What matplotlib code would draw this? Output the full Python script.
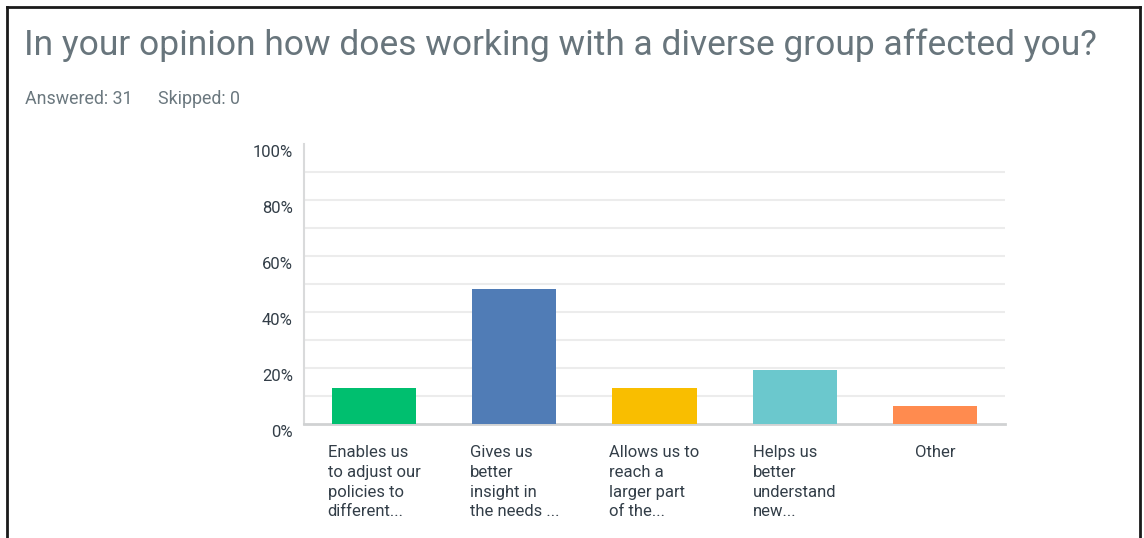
import numpy as np
import matplotlib.pyplot as plt
from matplotlib.lines import Line2D
import matplotlib.transforms as mtransforms

plt.rcParams['font.family'] = ['Roboto', 'DejaVu Sans']

title = 'In your opinion how does working with a diverse group affected you?'
answered = 31
skipped = 0
choices = ['Enables us\nto adjust our\npolicies to\ndifferent...',
           'Gives us\nbetter\ninsight in\nthe needs ...',
           'Allows us to\nreach a\nlarger part\nof the...',
           'Helps us\nbetter\nunderstand\nnew...',
           'Other']
responses = [4, 15, 4, 6, 2]
colors = ['#00bf6f', '#507cb6', '#f9be00', '#6bc8cd', '#ff8b4f']

pct = np.array(responses) / answered * 100
yticks = list(range(0, 101, 20))

W, H = 1144, 538
fig = plt.figure(figsize=(W / 100, H / 100), dpi=100)

# frame around the question box (open at the bottom)
for xs, ys in [([7, 7], [545, 7]), ([7, 1140], [7, 7]), ([1140, 1140], [7, 545])]:
    fig.add_artist(Line2D([x / W for x in xs], [1 - y / H for y in ys],
                          color='#1a1a1a', lw=2, transform=fig.transFigure))

fig.text(24 / W, 1 - 45 / H, title, fontsize=25.5, color='#68757c',
         va='center', ha='left')
fig.text(25 / W, 1 - 99 / H, f'Answered: {answered}', fontsize=12.8,
         color='#6b787f', va='center', ha='left')
fig.text(158 / W, 1 - 99 / H, f'Skipped: {skipped}', fontsize=12.8,
         color='#6b787f', va='center', ha='left')

ax = fig.add_axes([304 / W, 1 - 424 / H, (1005 - 304) / W, (424 - 144) / H])
x = np.arange(len(choices))
ax.bar(x, pct, width=0.6, color=colors, zorder=3)
ax.set_xlim(-0.5, len(choices) - 0.5)
ax.set_ylim(0, 100)

for g in range(10, 100, 10):
    ax.axhline(g, color='#ececec', lw=1.5, zorder=1)

# y labels sit a little below their gridlines
ax.set_yticks(yticks)
ax.set_yticklabels([])
ax.tick_params(axis='y', length=0)
ax.set_xticks([])
lab_tr = ax.get_yaxis_transform() + mtransforms.ScaledTranslation(
    -11 / 100, -8.5 / 100, fig.dpi_scale_trans)
for v in yticks:
    ax.text(0, v, f'{v}%', transform=lab_tr, ha='right', va='center',
            fontsize=12, color='#333e48')

for xi, name in zip(x, choices):
    ax.text(xi, -7.5, name, ha='center', va='top', multialignment='left',
            fontsize=12, color='#333e48', linespacing=1.4)

for side in ['top', 'right']:
    ax.spines[side].set_visible(False)
ax.spines['left'].set_color('#d9dadb')
ax.spines['left'].set_linewidth(1.5)
ax.spines['bottom'].set_color('#d0d2d3')
ax.spines['bottom'].set_linewidth(2)

fig.savefig('out.png', dpi=100)
